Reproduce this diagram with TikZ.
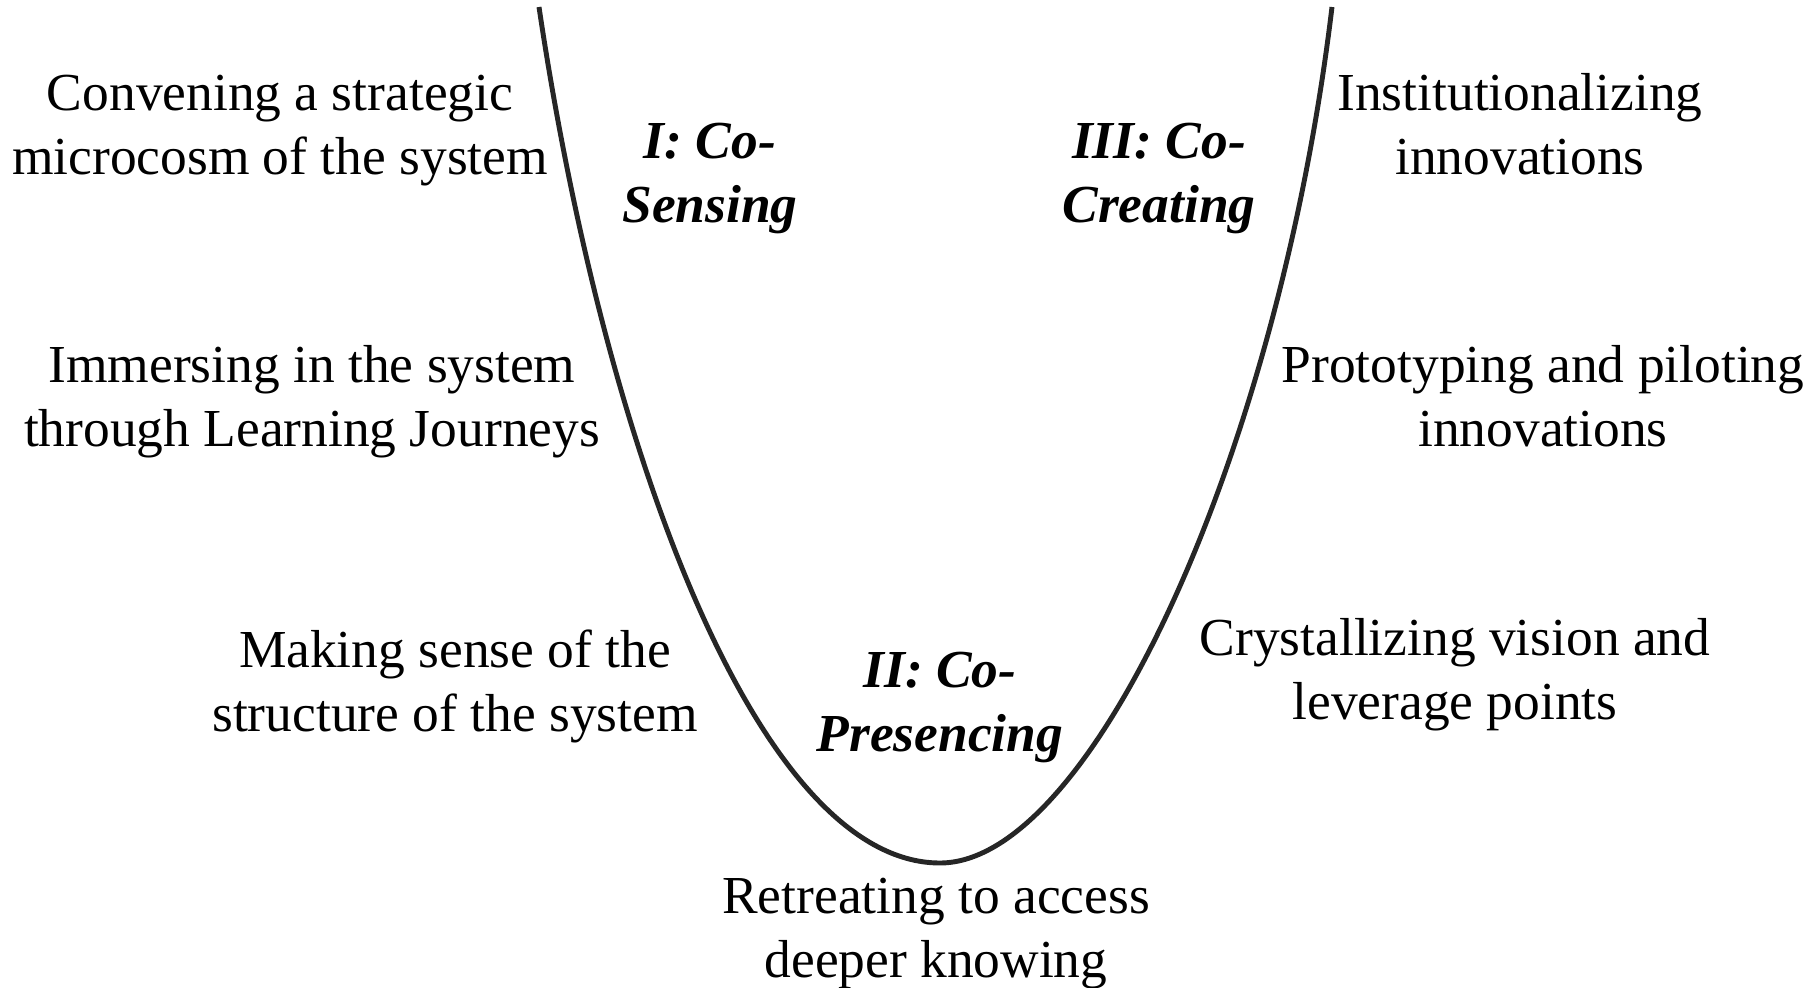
\documentclass[tikz,border=0pt]{standalone}
\usepackage{fontspec}
\setmainfont{Liberation Serif}
\tikzstyle{practice}=[align=center, font=\fontsize{15.2}{18.2}\selectfont, inner sep=0pt, anchor=base]
\tikzstyle{movement}=[align=center, font=\fontsize{15.2}{18.2}\selectfont\bfseries\itshape, inner sep=0pt, anchor=base]
\tikzstyle{u curve}=[line width=1.4pt, black!85]

\begin{document}
\begin{tikzpicture}[x=0.01cm, y=-0.01cm]
  \useasboundingbox (0, 0) rectangle (1820, 987);
  \coordinate (top left) at (539, 7);
  \coordinate (bottom) at (940, 863);
  \coordinate (top right) at (1332, 7);
  \draw[u curve] (top left)
    .. controls (606, 457) and (760, 863) .. (bottom)
    .. controls (1090, 863) and (1278, 457) .. (top right);
  % left side
  \node[practice] (convene) at (280, 174) {Convening a strategic\\microcosm of the system};
  \node[practice] (immerse) at (312, 446) {Immersing in the system\\through Learning Journeys};
  \node[practice] (sense) at (455, 731) {Making sense of the\\structure of the system};
  % bottom
  \node[practice] (retreat) at (936, 977) {Retreating to access\\deeper knowing};
  % right side
  \node[practice] (crystal) at (1455, 719) {Crystallizing vision and\\leverage points};
  \node[practice] (prototype) at (1543, 446) {Prototyping and piloting\\innovations};
  \node[practice] (institute) at (1520, 174) {Institutionalizing\\innovations};
  % movements
  \node[movement] (sensing) at (710, 222) {I: Co-\\Sensing};
  \node[movement] (presencing) at (940, 751) {II: Co-\\Presencing};
  \node[movement] (creating) at (1159, 222) {III: Co-\\Creating};
\end{tikzpicture}
\end{document}
